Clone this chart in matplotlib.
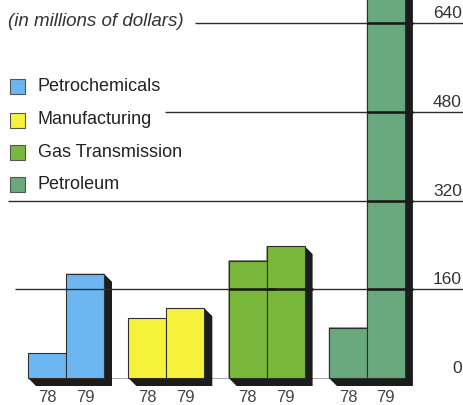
import matplotlib
matplotlib.use("Agg")
import matplotlib.pyplot as plt
from matplotlib.patches import Polygon, Rectangle

# Revenue by segment, in millions of dollars
segments = ["Petrochemicals", "Manufacturing", "Gas Transmission", "Petroleum"]
years = ["78", "79"]
revenue_78 = [45, 108, 212, 91]
revenue_79 = [188, 126, 238, 720]
scale_ticks = [0, 160, 320, 480, 640]
colors = ["#6cb6f2", "#f6f23c", "#7ab83c", "#6aa97e"]

W, H = 464, 405
BASE_PX = 378            # pixel row of the zero line
UNITS_PER_PX = 1 / 0.5542

fig = plt.figure(figsize=(W / 100, H / 100), dpi=100)
ax = fig.add_axes([0, 0, 1, 1])
ax.set_xlim(0, W)
ax.set_ylim(-(H - BASE_PX) * UNITS_PER_PX, BASE_PX * UNITS_PER_PX)
ax.axis("off")


def dy(px):
    """Convert a vertical pixel distance into value units."""
    return px * UNITS_PER_PX


plt.rcParams["font.family"] = ["Liberation Sans", "DejaVu Sans"]
ink = "#222222"

# bars with a dark extruded shadow
group_start, group_step, bar_w = 28, 100.3, 38
depth = 8
bar_spans = []
for i, seg in enumerate(segments):
    for j, vals in enumerate([revenue_78, revenue_79]):
        v = vals[i]
        left = group_start + group_step * i + bar_w * j
        right = left + bar_w
        bar_spans.append((left, right, v))
        shadow = Polygon(
            [(left, 0), (left + depth, -dy(depth)), (right + depth, -dy(depth)),
             (right + depth, v - dy(depth)), (right, v), (left, v)],
            closed=True, facecolor="#1c1c1c", edgecolor="none", zorder=1)
        ax.add_patch(shadow)
        ax.add_patch(Rectangle((left, 0), bar_w, v, facecolor=colors[i],
                               edgecolor="#2f2f2f", linewidth=0.8, zorder=2))
        ax.text(left + bar_w / 2, -dy(19), years[j], ha="center", va="center",
                fontsize=12, color="#444444")

# horizontal scale lines with labels at the right
line_start = {0: 110, 160: 15, 320: 8, 480: 165, 640: 195}
for t in scale_ticks:
    if t == 0:
        ax.hlines(0, line_start[t], 335, color="#9a9a9a", linewidth=0.6, zorder=0)
    else:
        ax.hlines(t, line_start[t], W, color="#2e2e2e", linewidth=1.0, zorder=3)
        # the rule reads heavier where it crosses a bar
        for left, right, v in bar_spans:
            if v > t and left >= 200:
                ax.hlines(t, left, right + depth, color="#1a1a1a",
                          linewidth=1.8, zorder=3)
    ax.text(462, t + dy(2), str(t), ha="right", va="bottom", fontsize=12.5,
            color="#333333")

# units note
ax.text(8, 640 + dy(1.5), "(in millions of dollars)", ha="left", va="center",
        fontsize=13.5, style="italic", color="#333333")

# legend
row_px = [86, 120, 152, 184]
for seg, c, p in zip(segments, colors, row_px):
    yc = (BASE_PX - p) * UNITS_PER_PX
    ax.add_patch(Rectangle((10, yc - dy(7.5)), 15, dy(15), facecolor=c,
                           edgecolor="#555555", linewidth=0.8, zorder=2))
    ax.text(38, yc, seg, ha="left", va="center", fontsize=13, color=ink)

fig.savefig("out.png", dpi=100)
